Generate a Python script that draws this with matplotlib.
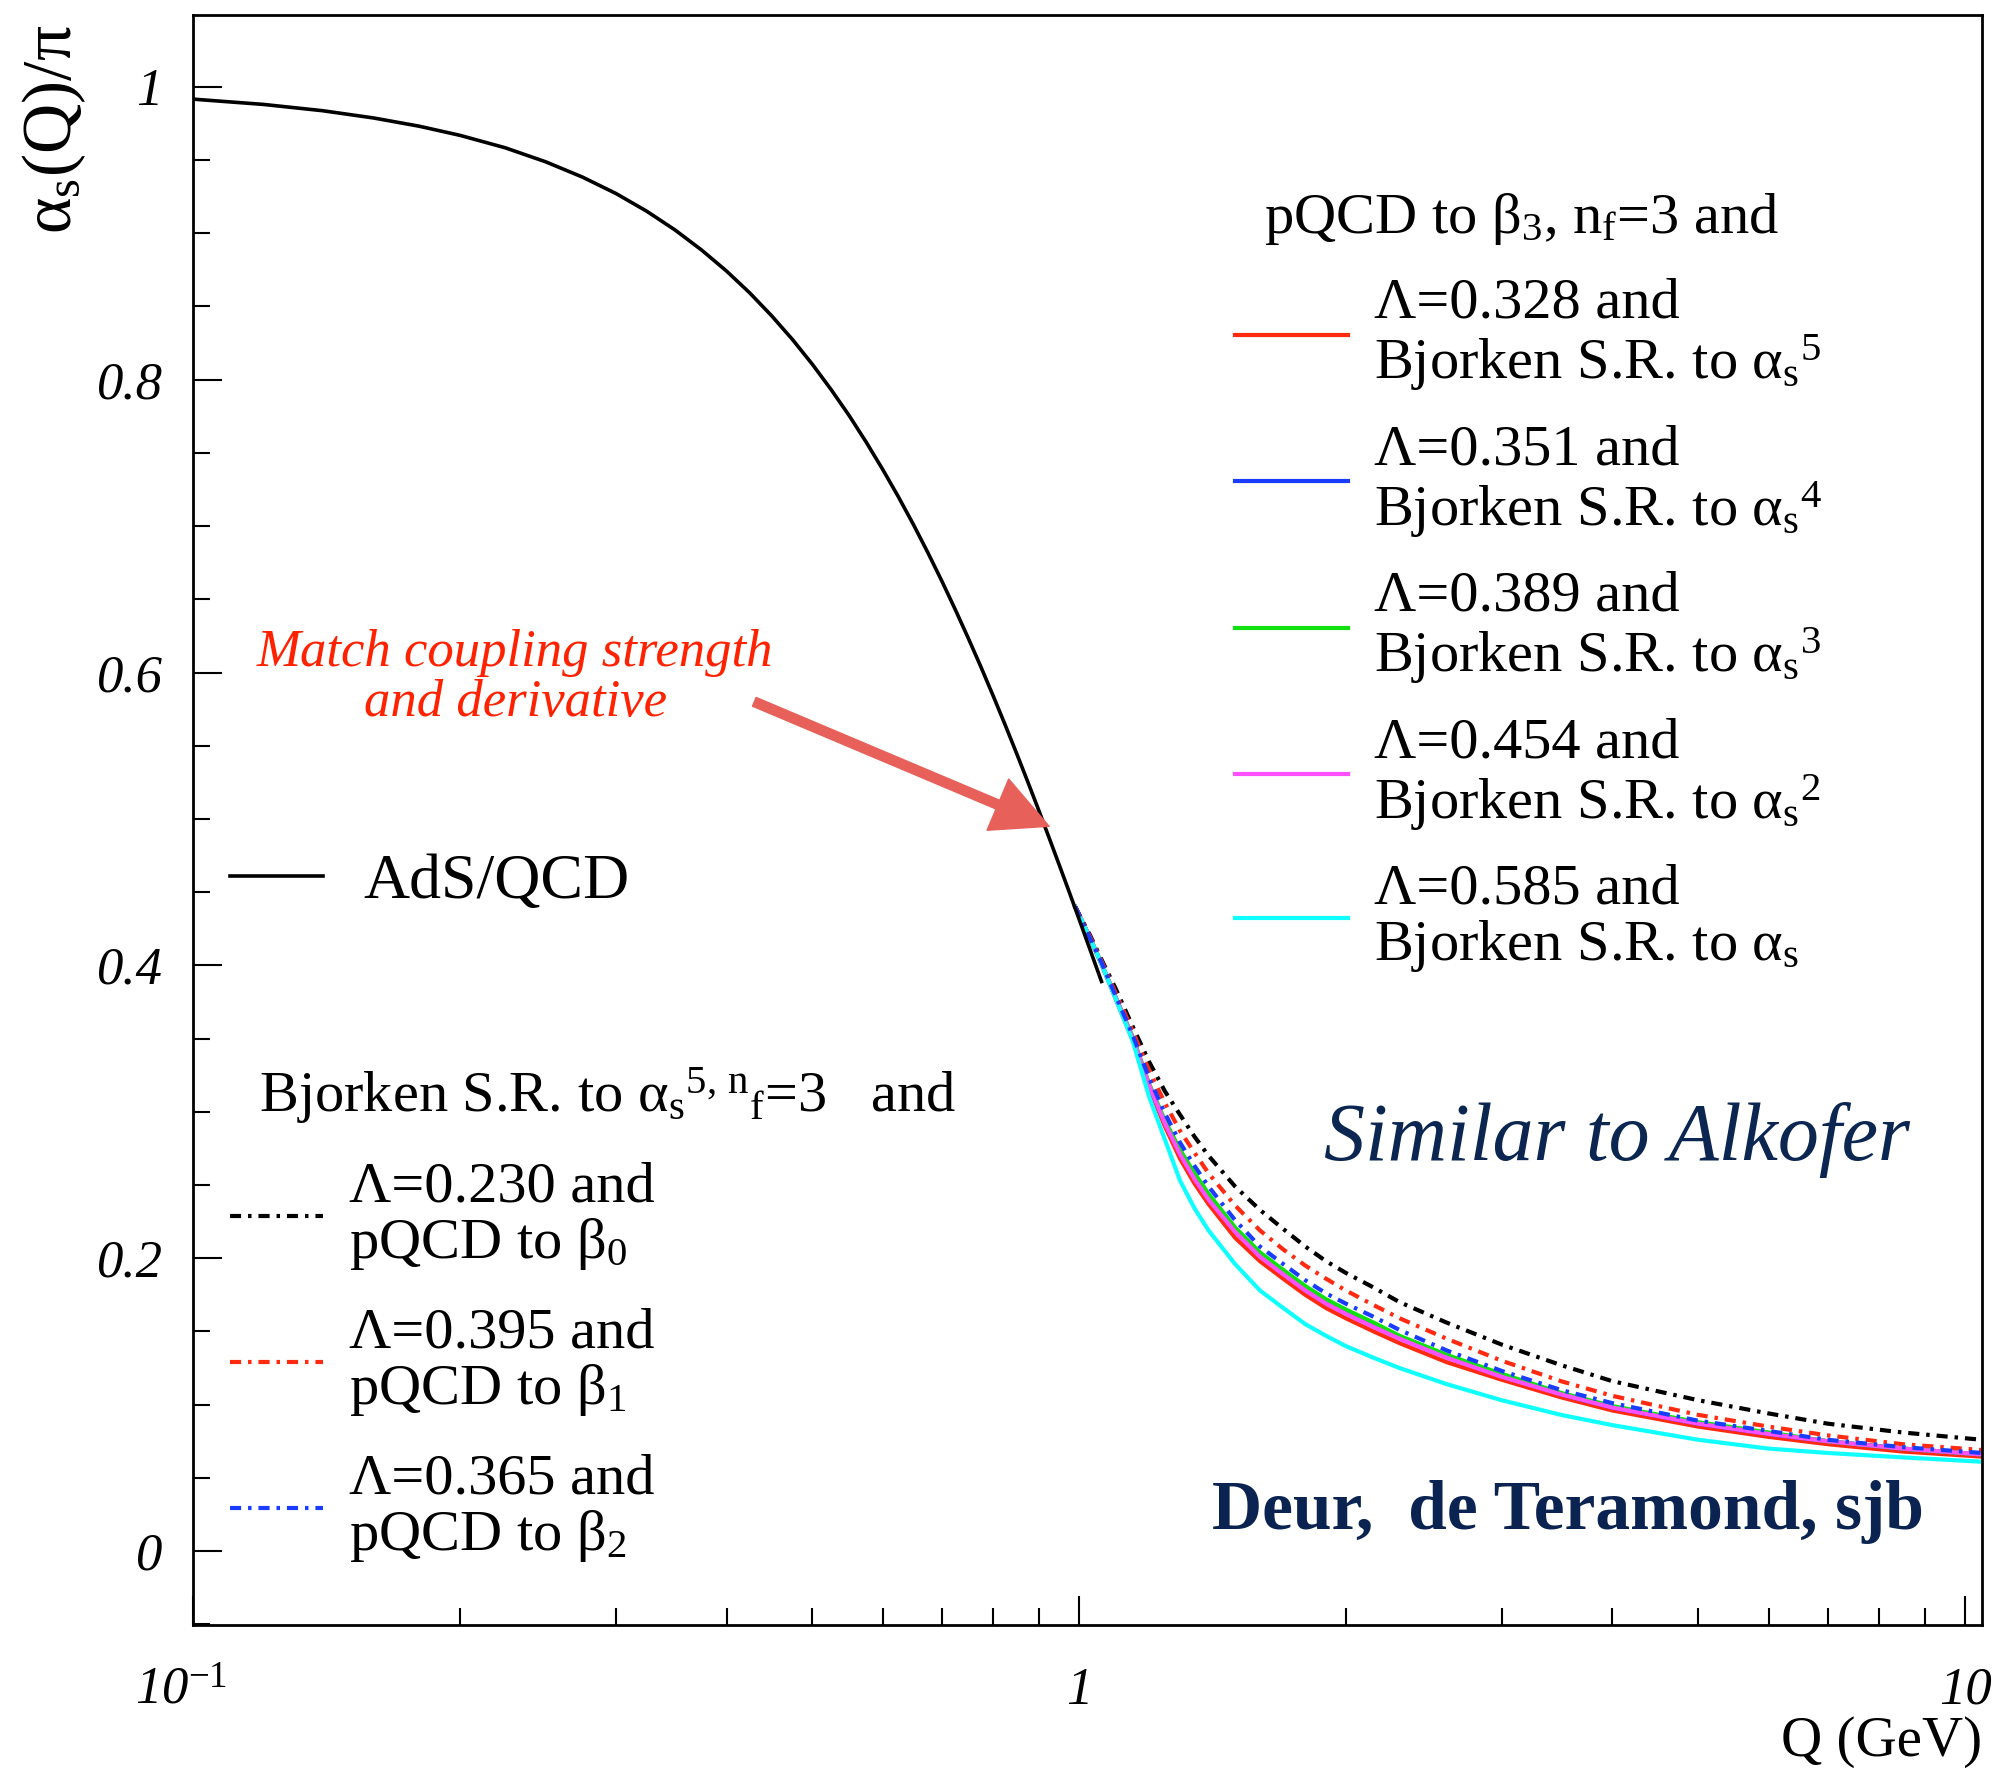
import matplotlib
matplotlib.use("Agg")
import matplotlib.pyplot as plt
from matplotlib.ticker import MultipleLocator, LogLocator, NullFormatter
from matplotlib.transforms import ScaledTranslation

plt.rcParams.update({
    "font.family": ["Liberation Serif", "DejaVu Serif"],
    "mathtext.fontset": "custom",
    "mathtext.rm": "Liberation Serif",
    "mathtext.it": "Liberation Serif:italic",
    "mathtext.bf": "Liberation Serif:bold",
    "lines.scale_dashes": False,
    "axes.linewidth": 2.0,
})

# AdS/QCD effective coupling (low-Q part)
q_ads = [0.1, 0.12, 0.14, 0.16, 0.18, 0.2, 0.225, 0.25, 0.275, 0.3, 0.325, 0.35,
         0.375, 0.4, 0.425, 0.45, 0.475, 0.5, 0.525, 0.55, 0.575, 0.6, 0.625,
         0.65, 0.675, 0.7, 0.725, 0.75, 0.775, 0.8, 0.825, 0.85, 0.875, 0.9,
         0.925, 0.95, 0.975, 1.0, 1.03, 1.06]
a_ads = [0.9916, 0.9880, 0.9837, 0.9787, 0.9731, 0.9669, 0.9584, 0.9488, 0.9384,
         0.9272, 0.9151, 0.9022, 0.8885, 0.8742, 0.8592, 0.8435, 0.8273, 0.8105,
         0.7932, 0.7756, 0.7574, 0.7389, 0.7202, 0.7012, 0.6819, 0.6625, 0.6429,
         0.6233, 0.6037, 0.5840, 0.5644, 0.5449, 0.5255, 0.5063, 0.4872, 0.4684,
         0.4499, 0.4316, 0.4100, 0.3890]

# pQCD continuations (high-Q part)
q_pqcd = [0.99, 1.03, 1.06, 1.1, 1.15, 1.2, 1.25, 1.3, 1.35, 1.4, 1.5, 1.6, 1.7,
          1.8, 1.9, 2.0, 2.15, 2.3, 2.6, 3.0, 3.5, 4.0, 5.0, 6.0, 7.0, 8.5, 10.45]

# pQCD to beta_3, Bjorken sum rule to various orders
a_bj5 = [0.440, 0.418, 0.401, 0.377, 0.349, 0.316, 0.290, 0.268, 0.251, 0.237,
         0.214, 0.198, 0.186, 0.175, 0.166, 0.159, 0.150, 0.142, 0.129, 0.117,
         0.105, 0.096, 0.085, 0.078, 0.073, 0.068, 0.0645]
a_bj4 = [0.440, 0.418, 0.401, 0.378, 0.350, 0.318, 0.293, 0.272, 0.255, 0.241,
         0.219, 0.202, 0.190, 0.179, 0.170, 0.163, 0.154, 0.146, 0.133, 0.120,
         0.107, 0.098, 0.087, 0.080, 0.075, 0.070, 0.066]
a_bj3 = [0.440, 0.418, 0.401, 0.378, 0.351, 0.319, 0.294, 0.274, 0.258, 0.244,
         0.221, 0.204, 0.192, 0.181, 0.172, 0.165, 0.156, 0.147, 0.134, 0.121,
         0.108, 0.099, 0.088, 0.081, 0.075, 0.070, 0.066]
a_bj2 = [0.440, 0.418, 0.401, 0.378, 0.350, 0.318, 0.292, 0.271, 0.254, 0.240,
         0.218, 0.201, 0.189, 0.178, 0.169, 0.162, 0.153, 0.145, 0.132, 0.119,
         0.107, 0.098, 0.087, 0.080, 0.075, 0.070, 0.066]
a_bj1 = [0.440, 0.418, 0.401, 0.377, 0.348, 0.310, 0.281, 0.253, 0.234, 0.219,
         0.196, 0.178, 0.166, 0.155, 0.147, 0.140, 0.132, 0.125, 0.114, 0.103,
         0.093, 0.086, 0.076, 0.070, 0.067, 0.064, 0.061]

# Bjorken sum rule to alpha_s^5, pQCD to beta_0..beta_2
a_b0 = [0.440, 0.420, 0.404, 0.384, 0.358, 0.334, 0.314, 0.298, 0.283, 0.270,
        0.249, 0.233, 0.220, 0.208, 0.198, 0.190, 0.180, 0.170, 0.156, 0.141,
        0.127, 0.116, 0.103, 0.094, 0.087, 0.081, 0.076]
a_b1 = [0.440, 0.419, 0.403, 0.381, 0.355, 0.328, 0.306, 0.287, 0.272, 0.258,
        0.236, 0.219, 0.206, 0.195, 0.186, 0.178, 0.168, 0.159, 0.145, 0.130,
        0.116, 0.106, 0.093, 0.085, 0.079, 0.073, 0.069]
a_b2 = [0.440, 0.418, 0.402, 0.379, 0.352, 0.323, 0.299, 0.279, 0.263, 0.249,
        0.226, 0.208, 0.196, 0.185, 0.176, 0.169, 0.160, 0.151, 0.137, 0.123,
        0.110, 0.101, 0.089, 0.082, 0.076, 0.071, 0.067]

AS = "$\\mathrm{\\alpha}_\\mathrm{s}$"
solid_labels = [
    "\u039b=0.328 and\nBjorken S.R. to " + AS + "$^\\mathrm{5}$",
    "\u039b=0.351 and\nBjorken S.R. to " + AS + "$^\\mathrm{4}$",
    "\u039b=0.389 and\nBjorken S.R. to " + AS + "$^\\mathrm{3}$",
    "\u039b=0.454 and\nBjorken S.R. to " + AS + "$^\\mathrm{2}$",
    "\u039b=0.585 and\nBjorken S.R. to " + AS,
]
dd_labels = [
    "\u039b=0.230 and\npQCD to $\\mathrm{\\beta_0}$",
    "\u039b=0.395 and\npQCD to $\\mathrm{\\beta_1}$",
    "\u039b=0.365 and\npQCD to $\\mathrm{\\beta_2}$",
]
y_ticks = [0, 0.2, 0.4, 0.6, 0.8, 1.0]
y_tick_labels = ["0", "0.2", "0.4", "0.6", "0.8", "1"]
x_ticks = [0.1, 1, 10]
x_tick_labels = ["10$^{\\mathit{-1}}$", "1", "10"]

solid_colors = ["#ff2a10", "#1a3cff", "#10e010", "#ff50ff", "#10ffff"]
dd_colors = ["#000000", "#ff2a10", "#1a3cff"]
dash_dot = (8, 5, 2.5, 5)

fig = plt.figure(figsize=(20.01, 17.75), dpi=100)
ax = fig.add_axes([0.0965, 0.0845, 0.894, 0.907])
ax.set_xscale("log")
ax.set_xlim(0.1, 10.45)
ax.set_ylim(-0.0505, 1.049)

solid_handles = []
for vals, col in zip([a_bj5, a_bj4, a_bj3, a_bj2, a_bj1], solid_colors):
    ln, = ax.plot(q_pqcd, vals, color=col, lw=3.0)
    solid_handles.append(ln)

dd_handles = []
for vals, col in zip([a_b0, a_b1, a_b2], dd_colors):
    ln, = ax.plot(q_pqcd, vals, color=col, lw=3.0, dashes=dash_dot)
    dd_handles.append(ln)

ads_line, = ax.plot(q_ads, a_ads, color="black", lw=2.6)

# axes ticks
ax.set_yticks(y_ticks, y_tick_labels, fontstyle="italic")
ax.yaxis.set_minor_locator(MultipleLocator(0.05))
ax.set_xticks(x_ticks, x_tick_labels, fontstyle="italic")
ax.xaxis.set_minor_locator(LogLocator(base=10, subs=range(2, 10)))
ax.xaxis.set_minor_formatter(NullFormatter())
ax.tick_params(which="both", direction="in", top=False, right=False, width=1.5)
ax.tick_params(which="major", length=21)
ax.tick_params(which="minor", length=12)
ax.tick_params(axis="y", pad=22, labelsize=38)
ax.tick_params(axis="x", pad=30, labelsize=38)
first_lbl = ax.xaxis.get_major_ticks()[0].label1
first_lbl.set_transform(first_lbl.get_transform()
                        + ScaledTranslation(-0.12, 0, fig.dpi_scale_trans))

# legends
leg_ads = ax.legend([ads_line], ["AdS/QCD"], loc="center left",
                    bbox_to_anchor=(0.0207, 0.461), frameon=False, fontsize=46,
                    handlelength=1.45, handletextpad=0.64, borderpad=0,
                    borderaxespad=0)
ax.add_artist(leg_ads)

leg_dd = ax.legend(dd_handles, dd_labels, loc="upper left",
                   bbox_to_anchor=(0.0207, 0.348), frameon=False, fontsize=42,
                   title="  Bjorken S.R. to " + AS + "$^{\\mathrm{5,\\,n}}$$_\\mathrm{f}$=3   and",
                   title_fontsize=42, alignment="left",
                   handlelength=1.6, handletextpad=0.43, labelspacing=0.61,
                   borderpad=0, borderaxespad=0)
ax.add_artist(leg_dd)

leg_solid = ax.legend(solid_handles, solid_labels, loc="upper left",
                      bbox_to_anchor=(0.5824, 0.891), frameon=False, fontsize=42,
                      title="  pQCD to $\\mathrm{\\beta_3}$, n$_\\mathrm{f}$=3 and",
                      title_fontsize=42, alignment="left",
                      handlelength=1.94, handletextpad=0.45, labelspacing=0.53,
                      borderpad=0, borderaxespad=0)

for lg in (leg_dd, leg_solid):
    for t in lg.get_texts():
        t.set_linespacing(1.06)

# annotations
ax.text(0.18, 0.588, "Match coupling strength\nand derivative",
        transform=ax.transAxes, ha="center", va="center", fontsize=38,
        style="italic", color="#ff2200", linespacing=1.05)
ax.annotate("", xy=(0.925, 0.495), xytext=(0.43, 0.58),
            arrowprops=dict(arrowstyle="simple,head_length=1.0,head_width=1.0,tail_width=0.17",
                            mutation_scale=40, color="#e8605a",
                            shrinkA=0, shrinkB=0))
ax.text(0.632, 0.301, "Similar to Alkofer", transform=ax.transAxes,
        ha="left", va="center", fontsize=59, style="italic", color="#0b2650")
ax.text(0.9676, 0.070, "Deur,  de Teramond, sjb", transform=ax.transAxes,
        ha="right", va="center", fontsize=50, weight="bold", color="#0a2350")

# axis titles
fig.text(0.027, 0.927, AS + "(Q)/$\\mathrm{\\pi}$", rotation=90,
         fontsize=50, ha="center", va="center")
fig.text(0.9905, 0.0186, "Q (GeV)", fontsize=41, ha="right", va="center")

fig.savefig("out.png", dpi=100, facecolor="white")
